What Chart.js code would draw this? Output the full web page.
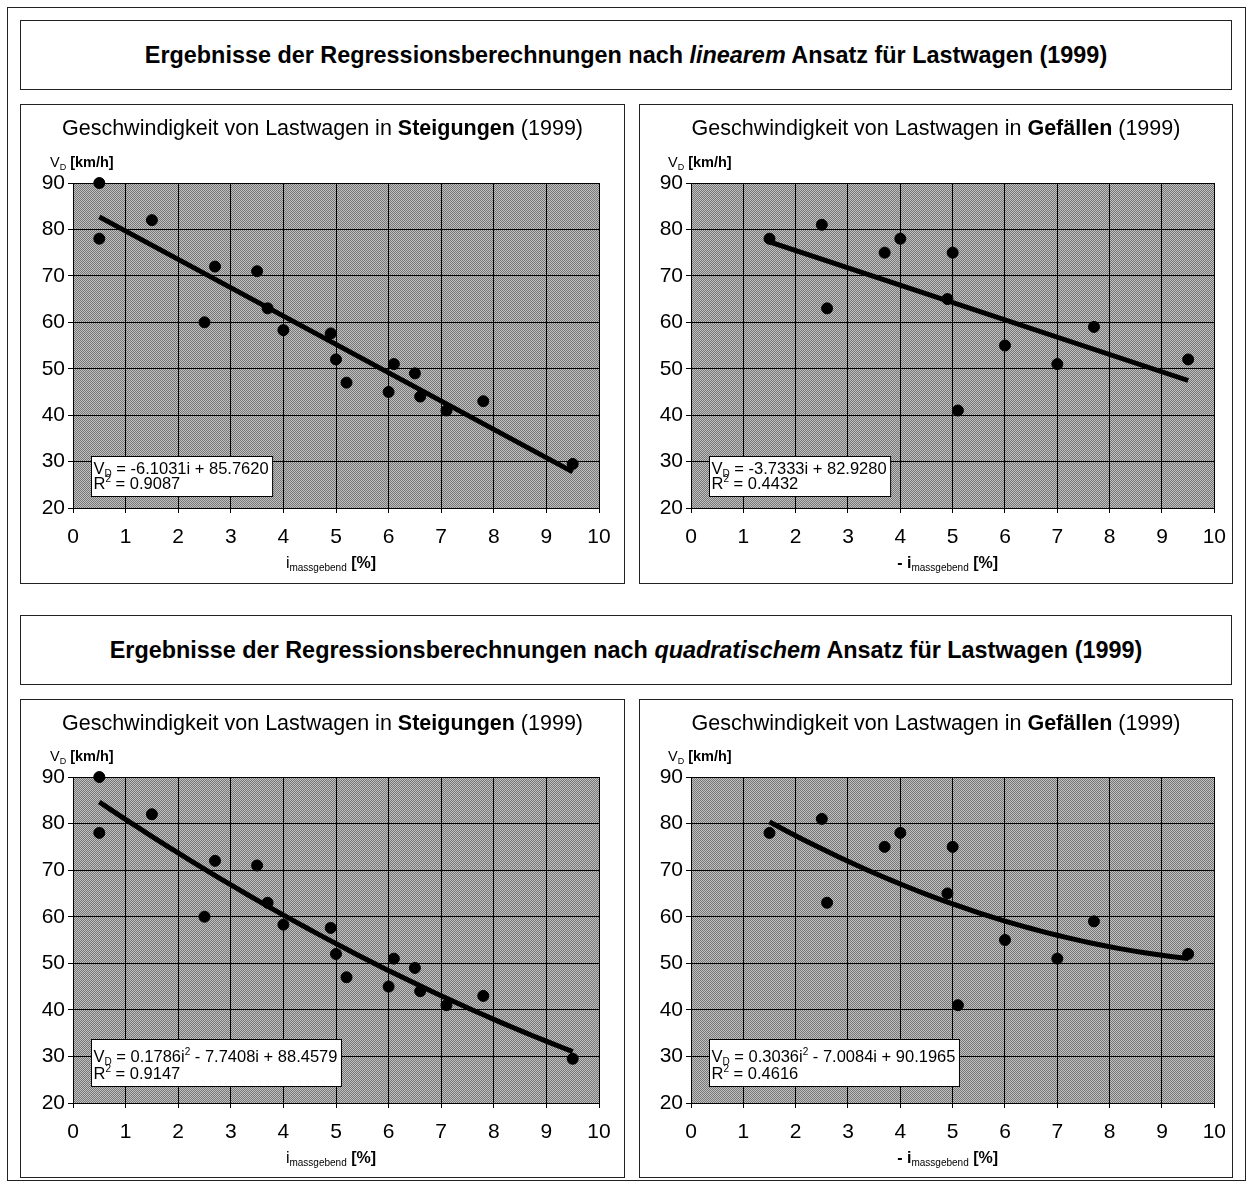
<!DOCTYPE html>
<html>
<head>
<meta charset="utf-8">
<script src="https://cdn.jsdelivr.net/npm/chart.js@4.4.1/dist/chart.umd.min.js"></script>
<style>
  body { margin: 0; width: 1250px; height: 1184px; background: #fff; position: relative;
         font-family: "Liberation Sans", Arial, sans-serif; color: #000; }
  .box { position: absolute; border: 1px solid #222; box-sizing: border-box; }
  .heading { display: flex; align-items: center; justify-content: center; font-weight: bold; font-size: 23.4px; white-space: pre; }
  .panel canvas { position: absolute; left: 0; top: 0; }
  .ptitle { position: absolute; left: 0; right: 0; top: 11px; text-align: center; font-size: 21.5px; line-height: 24px; white-space: pre; }
</style>
</head>
<body>
<div class="box" style="left:7px;top:7px;width:1239px;height:1174px"></div>

<div class="box heading" style="left:20px;top:20px;width:1212px;height:70px">Ergebnisse der Regressionsberechnungen nach <i>linearem</i> Ansatz für Lastwagen (1999)</div>
<div class="box panel" style="left:20px;top:104px;width:605px;height:480px">
  <canvas id="linSteig" width="603" height="478"></canvas>
  <div class="ptitle">Geschwindigkeit von Lastwagen in <b>Steigungen</b> (1999)</div>
</div>
<div class="box panel" style="left:639px;top:104px;width:594px;height:480px">
  <canvas id="linGef" width="598" height="478"></canvas>
  <div class="ptitle">Geschwindigkeit von Lastwagen in <b>Gefällen</b> (1999)</div>
</div>

<div class="box heading" style="left:20px;top:615px;width:1212px;height:70px">Ergebnisse der Regressionsberechnungen nach <i>quadratischem</i> Ansatz für Lastwagen (1999)</div>
<div class="box panel" style="left:20px;top:699px;width:605px;height:479px">
  <canvas id="quadSteig" width="603" height="477"></canvas>
  <div class="ptitle">Geschwindigkeit von Lastwagen in <b>Steigungen</b> (1999)</div>
</div>
<div class="box panel" style="left:639px;top:699px;width:594px;height:479px">
  <canvas id="quadGef" width="598" height="477"></canvas>
  <div class="ptitle">Geschwindigkeit von Lastwagen in <b>Gefällen</b> (1999)</div>
</div>

<script>
const FONT = '"Liberation Sans", Arial, sans-serif';

// Messpunkte Steigungen: massgebende Steigung [%] und V_D [km/h]
const steigI = [0.5, 0.5, 1.5, 2.5, 2.7, 3.5, 3.7, 4.0, 4.9, 5.0, 5.2, 6.0, 6.1, 6.5, 6.6, 7.1, 7.8, 9.5];
const steigV = [90, 78, 82, 60, 72, 71, 63, 58.3, 57.6, 52, 47, 45, 51, 49, 44, 41, 43, 29.5];

// Messpunkte Gefälle: -i massgebend [%] und V_D [km/h]
const gefI = [1.5, 2.5, 2.6, 3.7, 4.0, 4.9, 5.0, 5.1, 6.0, 7.0, 7.7, 9.5];
const gefV = [78, 81, 63, 75, 78, 65, 75, 41, 55, 51, 59, 52];

// Regressionskoeffizienten (höchste Potenz zuerst) und Bestimmtheitsmass
const linSteigCoef = [-6.1031, 85.7620];
const linGefCoef = [-3.7333, 82.9280];
const quadSteigCoef = [0.1786, -7.7408, 88.4579];
const quadGefCoef = [0.3036, -7.0084, 90.1965];
const r2Values = { linSteig: 0.9087, linGef: 0.4432, quadSteig: 0.9147, quadGef: 0.4616 };

const xRange = [0, 10];
const yRange = [20, 90];

function polyVal(coef, x) {
  return coef.reduce((acc, c) => acc * x + c, 0);
}

// text runs: [text, 'n' | 'b' | 'sub' | 'sup']
function equationRuns(coef) {
  const runs = [['V', 'n'], ['D', 'sub'], [' = ', 'n']];
  const deg = coef.length - 1;
  coef.forEach((c, k) => {
    const p = deg - k;
    const num = Math.abs(c).toFixed(4);
    if (k === 0) runs.push([(c < 0 ? '-' : '') + num, 'n']);
    else runs.push([(c < 0 ? ' - ' : ' + ') + num, 'n']);
    if (p >= 1) runs.push(['i', 'n']);
    if (p === 2) runs.push(['2', 'sup']);
  });
  return runs;
}

let ditherPattern = null;
function dither(ctx) {
  if (!ditherPattern) {
    const tile = document.createElement('canvas');
    tile.width = 2; tile.height = 2;
    const t = tile.getContext('2d');
    t.fillStyle = '#c0c0c0'; t.fillRect(0, 0, 2, 2);
    t.fillStyle = '#777'; t.fillRect(0, 0, 1, 1); t.fillRect(1, 1, 1, 1);
    ditherPattern = ctx.createPattern(tile, 'repeat');
  }
  return ditherPattern;
}

function runFont(kind, size) {
  if (kind === 'sub' || kind === 'sup') return `${Math.round(size * 0.6)}px ${FONT}`;
  return `${kind === 'b' ? 'bold ' : ''}${size}px ${FONT}`;
}

function measureRuns(ctx, runs, size) {
  return runs.reduce((sum, [t, k]) => {
    ctx.font = runFont(k, size);
    return sum + ctx.measureText(t).width;
  }, 0);
}

function drawRuns(ctx, runs, x, y, size, align) {
  const total = measureRuns(ctx, runs, size);
  let cx = align === 'center' ? x - total / 2 : x;
  runs.forEach(([t, k]) => {
    ctx.font = runFont(k, size);
    const dy = k === 'sub' ? size * 0.2 : k === 'sup' ? -size * 0.4 : 0;
    ctx.fillText(t, cx, y + dy);
    cx += ctx.measureText(t).width;
  });
  return total;
}

const panelDecor = {
  id: 'panelDecor',
  beforeDraw(chart) {
    const { ctx, chartArea: a } = chart;
    ctx.save();
    ctx.fillStyle = dither(ctx);
    ctx.fillRect(a.left, a.top, a.right - a.left, a.bottom - a.top);
    ctx.restore();
  },
  afterDraw(chart, args, o) {
    const { ctx, chartArea: a } = chart;
    ctx.save();
    ctx.fillStyle = '#000';
    ctx.textBaseline = 'alphabetic';

    // y-axis caption
    drawRuns(ctx, [['V', 'n'], ['D', 'sub'], [' [km/h]', 'b']], a.left - 23, a.top - 16, 14.5, 'left');

    // x-axis caption
    const lead = o.negative ? [['- i', 'b']] : [['i', 'n']];
    drawRuns(ctx, lead.concat([['massgebend', 'sub'], [' [%]', 'b']]),
      (a.left + a.right) / 2 - 5, a.bottom + 60, 16, 'center');

    // regression label
    const size = 16.5;
    const eq = equationRuns(o.coef);
    const r2 = [['R', 'n'], ['2', 'sup'], [' = ' + o.r2.toFixed(4), 'n']];
    const w = Math.max(measureRuns(ctx, eq, size), measureRuns(ctx, r2, size)) + 6;
    const quad = o.coef.length > 2;
    const h = quad ? 47 : 40;
    const bx = Math.round(a.left + 18) + 0.5;
    const by = Math.round(a.bottom - (quad ? 17 : 12) - h) + 0.5;
    ctx.fillStyle = '#fff';
    ctx.fillRect(bx, by, w, h);
    ctx.strokeStyle = '#000';
    ctx.lineWidth = 1;
    ctx.strokeRect(bx, by, w, h);
    ctx.fillStyle = '#000';
    drawRuns(ctx, eq, bx + 2, by + (quad ? 22 : 17), size, 'left');
    drawRuns(ctx, r2, bx + 2, by + (quad ? 39 : 32), size, 'left');
    ctx.restore();
  }
};

function makeChart(id, xs, ys, coef, plot, negative) {
  const canvas = document.getElementById(id);
  const W = canvas.width, H = canvas.height;
  const lo = Math.min(...xs), hi = Math.max(...xs);
  const steps = coef.length > 2 ? 48 : 1;
  const trend = [];
  for (let k = 0; k <= steps; k++) {
    const x = lo + (hi - lo) * k / steps;
    trend.push({ x, y: polyVal(coef, x) });
  }
  const axis = (range, step) => ({
    type: 'linear', min: range[0], max: range[1],
    grid: { color: '#000', lineWidth: 1, tickLength: 5, tickColor: '#000' },
    border: { color: '#000', width: 1 },
    ticks: { stepSize: step, color: '#000', font: { family: FONT, size: 21 }, padding: 3, maxRotation: 0, autoSkip: false }
  });
  const x = axis(xRange, 1);
  x.afterFit = s => { s.height = H - plot.bottom; };
  x.ticks.padding = 12;
  const y = axis(yRange, 10);
  y.afterFit = s => { s.width = plot.left; };

  return new Chart(canvas, {
    type: 'scatter',
    data: {
      datasets: [
        { data: trend, showLine: true, borderColor: '#000', borderWidth: 5, pointRadius: 0, tension: 0, clip: false },
        { data: xs.map((v, n) => ({ x: v, y: ys[n] })), pointRadius: 5.5, pointBorderWidth: 1,
          pointBackgroundColor: '#000', pointBorderColor: '#000', clip: false }
      ]
    },
    options: {
      responsive: false,
      animation: false,
      devicePixelRatio: 1,
      layout: { padding: { top: plot.top, right: W - plot.left - plot.width, left: 0, bottom: 0 } },
      scales: { x, y },
      plugins: {
        legend: { display: false },
        tooltip: { enabled: false },
        panelDecor: { coef, r2: r2Values[id], negative }
      }
    },
    plugins: [panelDecor]
  });
}

makeChart('linSteig', steigI, steigV, linSteigCoef, { left: 52, top: 78, bottom: 403, width: 526 }, false);
makeChart('linGef', gefI, gefV, linGefCoef, { left: 51, top: 78, bottom: 403, width: 524 }, true);
makeChart('quadSteig', steigI, steigV, quadSteigCoef, { left: 52, top: 77, bottom: 403, width: 526 }, false);
makeChart('quadGef', gefI, gefV, quadGefCoef, { left: 51, top: 77, bottom: 403, width: 524 }, true);
</script>
</body>
</html>
